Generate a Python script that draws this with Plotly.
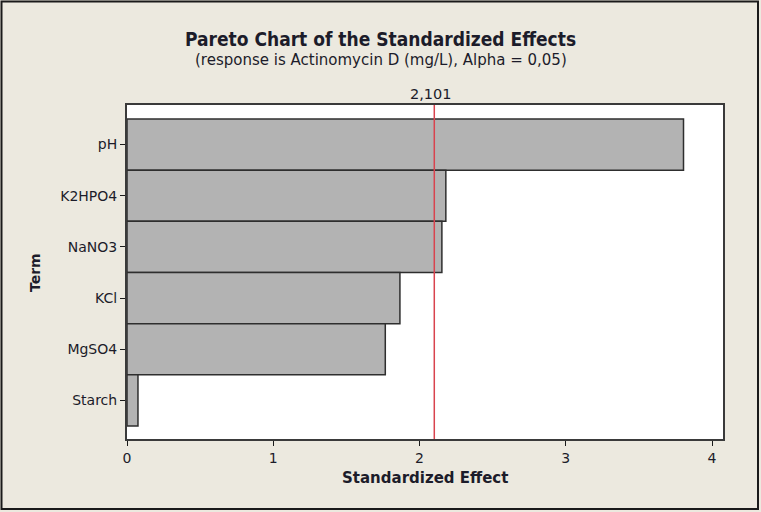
import plotly.graph_objects as go

terms = ["pH", "K2HPO4", "NaNO3", "KCl", "MgSO4", "Starch"]
effects = [3.805, 2.180, 2.153, 1.866, 1.766, 0.075]
critical = 2.101
critical_label = "2,101"
x_ticks = [0, 1, 2, 3, 4]

FONT = "DejaVu Sans"
FONT_C = "DejaVu Sans Condensed"
TXT = "#1c1c2a"
BG = "#ECE9DF"

W, H = 761, 512
L, R, T, B = 127, 38, 105, 73
pw, ph = W - L - R, H - T - B


def px(x):
    return (x - L) / pw


def py(y):
    return (H - B - y) / ph


fig = go.Figure()
fig.add_trace(go.Bar(
    x=effects, y=list(range(len(terms))), orientation="h", width=1,
    marker=dict(color="#B3B3B3", line=dict(color="#2e2e2e", width=1.5)),
    hoverinfo="skip",
))

fig.add_shape(type="line", xref="x", yref="paper", x0=critical, x1=critical,
              y0=0, y1=1, line=dict(color="#D9434E", width=1.5))
fig.add_shape(type="rect", xref="paper", yref="paper",
              x0=px(1.5), x1=px(758), y0=py(509), y1=py(1.5),
              line=dict(color="#1a1a1a", width=2))

common = dict(showarrow=False, xanchor="center", yanchor="middle")
fig.add_annotation(text="<b>Pareto Chart of the Standardized Effects</b>",
                   xref="paper", yref="paper", x=px(380.5), y=py(39),
                   font=dict(family=FONT_C, size=19, color=TXT), **common)
fig.add_annotation(text="(response is Actinomycin D (mg/L), Alpha = 0,05)",
                   xref="paper", yref="paper", x=px(380.5), y=py(60),
                   font=dict(family=FONT, size=15, color=TXT), **common)
fig.add_annotation(text=critical_label, xref="x", yref="paper", x=critical,
                   xshift=-3, y=py(94),
                   font=dict(family=FONT, size=14.5, color=TXT), **common)
fig.add_annotation(text="<b>Term</b>", xref="paper", yref="paper",
                   x=px(35), y=py(273), textangle=-90,
                   font=dict(family=FONT, size=14, color=TXT), **common)
fig.add_annotation(text="<b>Standardized Effect</b>", xref="paper", yref="paper",
                   x=px(424.5), y=py(478),
                   font=dict(family=FONT, size=15, color=TXT), **common)

fig.update_layout(
    width=W, height=H, margin=dict(l=L, r=R, t=T, b=B),
    paper_bgcolor=BG, plot_bgcolor="white", showlegend=False,
    font=dict(family=FONT, size=14, color=TXT),
    xaxis=dict(range=[0, 4.075], tickvals=x_ticks, ticks="outside", ticklen=5,
               tickcolor="#1a1a1a", showline=True, linecolor="#3a3a3a",
               linewidth=2, mirror=True, showgrid=False, zeroline=False,
               tickfont=dict(size=14)),
    yaxis=dict(range=[5.754, -0.773], tickvals=list(range(len(terms))),
               ticktext=terms, ticks="outside", ticklen=5, tickcolor="#1a1a1a",
               showline=True, linecolor="#3a3a3a", linewidth=2, mirror=True,
               showgrid=False, zeroline=False, tickfont=dict(size=14)),
)

fig.write_html("out.html", config={"displayModeBar": False},
               post_script="document.body.style.margin='0';document.body.style.overflow='hidden';")
